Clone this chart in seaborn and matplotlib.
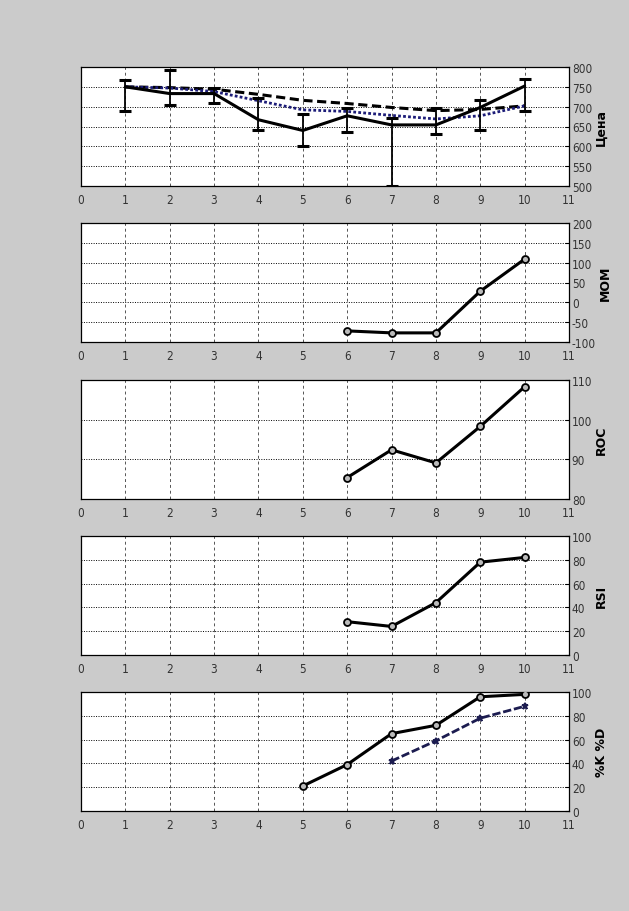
import numpy as np
import pandas as pd
import matplotlib
matplotlib.use("Agg")
import matplotlib.pyplot as plt
from matplotlib import font_manager
import seaborn as sns

# ---------------- data ----------------
days = [1, 2, 3, 4, 5, 6, 7, 8, 9, 10]
price = [750, 733, 733, 667, 640, 677, 654, 654, 698, 752]
price_high = [767, 792, 748, 721, 682, 696, 672, 696, 716, 771]
price_low = [688, 704, 708, 641, 600, 637, 500, 630, 641, 688]
ma_dashed = [750, 748, 744, 731, 716, 708, 698, 690, 693, 702]
ma_dotted = [750, 747, 738, 715, 692, 688, 678, 669, 677, 702]

mom_days = [6, 7, 8, 9, 10]
mom = [-72, -77, -77, 28, 109]

roc_days = [6, 7, 8, 9, 10]
roc = [85.4, 92.4, 89.1, 98.3, 108.3]

rsi_days = [6, 7, 8, 9, 10]
rsi = [28, 24, 44, 78, 82]

k_days = [5, 6, 7, 8, 9, 10]
k_vals = [21, 39, 65, 72, 96, 98]
d_days = [7, 8, 9, 10]
d_vals = [42, 59, 78, 88]

xticks = list(range(0, 12))
ylabels = ["Цена", "MOM", "ROC", "RSI", "%K %D"]
yticks = [
    [500, 550, 600, 650, 700, 750, 800],
    [-100, -50, 0, 50, 100, 150, 200],
    [80, 90, 100, 110],
    [0, 20, 40, 60, 80, 100],
    [0, 20, 40, 60, 80, 100],
]

# ---------------- style ----------------
sns.set_theme(style="white")
plt.rcParams["font.family"] = ["DejaVu Sans"]

# pick a narrow font for tick labels if one is installed
tick_fp = None
for f in font_manager.fontManager.ttflist:
    if f.name == "Liberation Sans Narrow" and f.weight in (400, "normal", "regular") and f.style == "normal":
        tick_fp = font_manager.FontProperties(fname=f.fname)
        break
if tick_fp is None:
    for f in font_manager.fontManager.ttflist:
        if f.name.startswith("DejaVu Sans") and "Condensed" in f.fname and "Bold" not in f.fname \
                and "Oblique" not in f.fname and "Mono" not in f.fname:
            tick_fp = font_manager.FontProperties(fname=f.fname)
            break
if tick_fp is None:
    tick_fp = font_manager.FontProperties(family="Liberation Sans")
tick_size = 8.5

BG = "#cbcbcb"
fig = plt.figure(figsize=(6.29, 9.12), dpi=100, facecolor=BG)

left, width, height = 81 / 629, (569 - 81) / 629, 119 / 912
bottoms_px = [187, 343, 500, 656, 812]
axes = [fig.add_axes([left, 1 - b / 912, width, height]) for b in bottoms_px]

def style_axis(ax, yt, label):
    ax.set_facecolor("white")
    ax.set_xlim(0, 11)
    ax.set_ylim(yt[0], yt[-1])
    ax.set_xticks(xticks)
    ax.set_yticks(yt)
    ax.yaxis.tick_right()
    ax.yaxis.set_label_position("right")
    ax.tick_params(axis="both", direction="in", length=3, width=0.8, colors="black", pad=2)
    ax.tick_params(axis="x", pad=5)
    ax.set_xticklabels([str(v) for v in xticks])
    ax.set_yticklabels([str(v) for v in yt])
    for t in ax.get_xticklabels() + ax.get_yticklabels():
        t.set_fontproperties(tick_fp)
        t.set_fontsize(tick_size)
        t.set_color("#333333")
    for s in ax.spines.values():
        s.set_color("black")
        s.set_linewidth(0.9)
    ax.grid(False)
    for x in xticks[1:-1]:
        ax.axvline(x, color="#555555", lw=0.7, ls=(0, (3, 3)), zorder=0.5)
    for y in yt[1:-1]:
        ax.axhline(y, color="black", lw=0.7, ls=(0, (1, 1.5)), zorder=0.5)
    ax.set_xlabel("")
    ax.set_ylabel(label, fontsize=9, fontweight="bold", family="DejaVu Sans",
                  rotation=90, labelpad=2, color="black")

# Panel 1: price
ax = axes[0]
df_p = pd.DataFrame({"day": days, "price": price, "ma1": ma_dashed, "ma2": ma_dotted})
sns.lineplot(data=df_p, x="day", y="ma1", ax=ax, color="black", lw=2.2,
             linestyle=(0, (3, 1.5)), zorder=3)
sns.lineplot(data=df_p, x="day", y="ma2", ax=ax, color="#1c1c78", lw=2.0,
             linestyle=(0, (1, 0.8)), zorder=3)
sns.lineplot(data=df_p, x="day", y="price", ax=ax, color="black", lw=2.2, zorder=4)
yerr = [np.array(price) - np.array(price_low), np.array(price_high) - np.array(price)]
ax.errorbar(days, price, yerr=yerr, fmt="none", ecolor="black", elinewidth=1.3,
            capsize=4, capthick=2.2, zorder=5)
style_axis(ax, yticks[0], ylabels[0])

def ind_line(ax, xs, ys, color="black", ls="-", marker="o", ms=5, lw=2.2):
    df = pd.DataFrame({"x": xs, "y": ys})
    sns.lineplot(data=df, x="x", y="y", ax=ax, color=color, lw=lw, linestyle=ls,
                 marker=marker, markersize=ms, markerfacecolor="#bbbbbb",
                 markeredgecolor=color, markeredgewidth=1.3, zorder=4)

ind_line(axes[1], mom_days, mom)
style_axis(axes[1], yticks[1], ylabels[1])

ind_line(axes[2], roc_days, roc)
style_axis(axes[2], yticks[2], ylabels[2])

ind_line(axes[3], rsi_days, rsi)
style_axis(axes[3], yticks[3], ylabels[3])

ind_line(axes[4], k_days, k_vals)
ind_line(axes[4], d_days, d_vals, color="#1c1c50", ls=(0, (3, 1)), marker="*", ms=5, lw=2.0)
style_axis(axes[4], yticks[4], ylabels[4])

fig.savefig("out.png", dpi=100, facecolor=BG)
